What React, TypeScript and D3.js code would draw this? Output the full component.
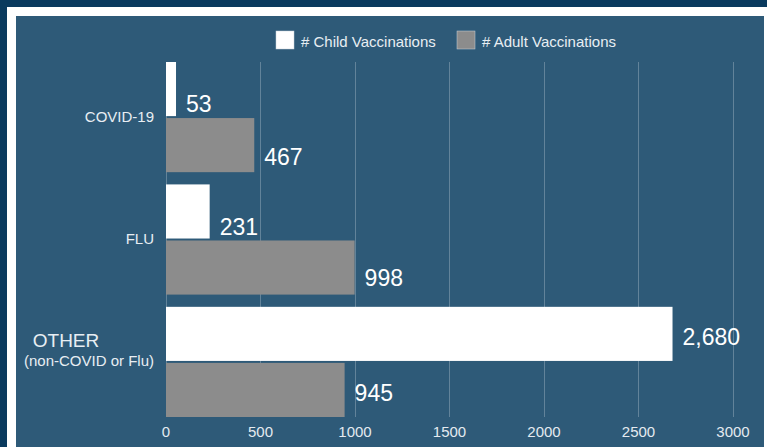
import * as d3 from 'd3';
import { useEffect, useRef } from 'react';

const categories = ['COVID-19', 'FLU', 'OTHER'];
const childValues = [53, 231, 2680];
const adultValues = [467, 998, 945];
const seriesNames = ['# Child Vaccinations', '# Adult Vaccinations'];
const xTicks = [0, 500, 1000, 1500, 2000, 2500, 3000];

const WIDTH = 767;
const HEIGHT = 447;
const FONT = '"Liberation Sans", Arial, sans-serif';

const seriesColors = ['#ffffff', '#8c8c8c'];

// how far above the bar's bottom edge each value label sits (per category, child/adult)
const labelLift: Record<string, [number, number]> = {
    'COVID-19': [4, 7],
    FLU: [4, 9],
    OTHER: [16, 16],
};

const App: React.FC = () => {
    const svgRef = useRef<SVGSVGElement | null>(null);

    useEffect(() => {
        if (!svgRef.current) return;
        const svg = d3.select(svgRef.current).attr('width', WIDTH).attr('height', HEIGHT);
        svg.selectAll('*').remove();

        // frame: dark outer, white inner border, blue panel
        svg.append('rect').attr('width', WIDTH).attr('height', HEIGHT).attr('fill', '#0a3a5e');
        svg.append('rect').attr('x', 7).attr('y', 7).attr('width', WIDTH - 7).attr('height', HEIGHT).attr('fill', '#ffffff');
        svg.append('rect').attr('x', 16).attr('y', 16).attr('width', 748).attr('height', HEIGHT).attr('fill', '#2e5a78');

        const xScale = d3.scaleLinear().domain([0, 3000]).range([166, 733]);
        const yScale = d3.scaleBand<string>().domain(categories).range([62, 417]).paddingInner(0.1).paddingOuter(0);
        const subScale = d3
            .scaleBand<number>()
            .domain([0, 1])
            .range([0, yScale.bandwidth()])
            .paddingInner(0.035);

        const [gridTop, gridBottom] = yScale.range();

        // vertical grid lines
        svg.append('g')
            .selectAll('line')
            .data(xTicks)
            .join('line')
            .attr('x1', (d) => xScale(d))
            .attr('x2', (d) => xScale(d))
            .attr('y1', gridTop)
            .attr('y2', gridBottom)
            .attr('stroke', '#ffffff')
            .attr('stroke-opacity', 0.25)
            .attr('shape-rendering', 'crispEdges');

        // tick labels
        svg.append('g')
            .selectAll('text')
            .data(xTicks)
            .join('text')
            .attr('x', (d) => xScale(d))
            .attr('y', 437)
            .attr('text-anchor', 'middle')
            .attr('fill', '#e4eaf0')
            .style('font-family', FONT)
            .style('font-size', '15px')
            .text((d) => String(d));

        // bars + value labels
        const rows = categories.map((c, i) => ({ category: c, values: [childValues[i], adultValues[i]] }));
        const groups = svg
            .append('g')
            .selectAll('g')
            .data(rows)
            .join('g')
            .attr('transform', (d) => `translate(0,${yScale(d.category)})`);

        groups.each(function (row) {
            const g = d3.select(this);
            row.values.forEach((v, s) => {
                const y0 = subScale(s)!;
                const h = subScale.bandwidth();
                g.append('rect')
                    .attr('x', xScale(0))
                    .attr('y', y0)
                    .attr('width', xScale(v) - xScale(0))
                    .attr('height', h)
                    .attr('fill', seriesColors[s]);
                g.append('text')
                    .attr('x', xScale(v) + 10)
                    .attr('y', y0 + h - labelLift[row.category][s])
                    .attr('fill', '#ffffff')
                    .style('font-family', FONT)
                    .style('font-size', '23px')
                    .text(d3.format(',')(v));
            });
        });

        // category labels
        categories.forEach((c) => {
            const cy = yScale(c)! + yScale.bandwidth() / 2;
            if (c === 'OTHER') {
                svg.append('text')
                    .attr('x', 66)
                    .attr('y', cy - 15)
                    .attr('text-anchor', 'middle')
                    .attr('fill', '#e8eef3')
                    .style('font-family', FONT)
                    .style('font-size', '19px')
                    .text('OTHER');
                svg.append('text')
                    .attr('x', 154)
                    .attr('y', cy + 4)
                    .attr('text-anchor', 'end')
                    .attr('fill', '#e8eef3')
                    .style('font-family', FONT)
                    .style('font-size', '15px')
                    .text('(non-COVID or Flu)');
            } else {
                svg.append('text')
                    .attr('x', 154)
                    .attr('y', cy + 4.5)
                    .attr('text-anchor', 'end')
                    .attr('fill', '#e8eef3')
                    .style('font-family', FONT)
                    .style('font-size', '15px')
                    .text(c);
            }
        });

        // legend
        const legendX = [276, 457];
        const legend = svg
            .append('g')
            .selectAll('g')
            .data(seriesNames)
            .join('g')
            .attr('transform', (_d, i) => `translate(${legendX[i]},31)`);
        legend
            .append('rect')
            .attr('width', 18)
            .attr('height', 18)
            .attr('fill', (_d, i) => seriesColors[i])
            .attr('stroke', '#c8d2da')
            .attr('stroke-width', 0.5);
        legend
            .append('text')
            .attr('x', 25)
            .attr('y', 15.7)
            .attr('fill', '#e8eef3')
            .style('font-family', FONT)
            .style('font-size', '15px')
            .text((d) => d);
    }, []);

    return <svg ref={svgRef} style={{ position: 'absolute', left: 0, top: 0, display: 'block' }}></svg>;
};

export default App;
